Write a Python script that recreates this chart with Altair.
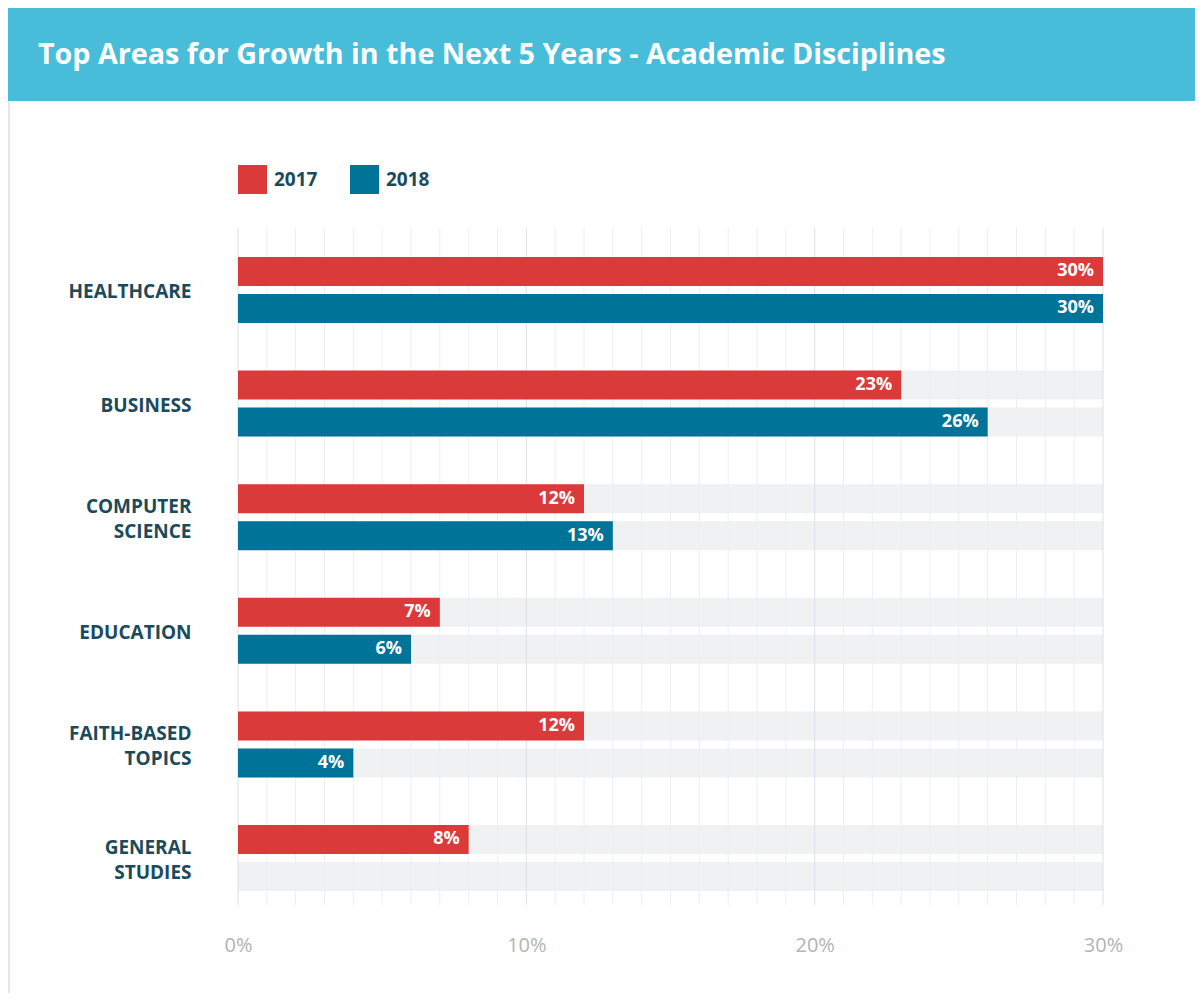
import altair as alt
import pandas as pd

# ---- data ----
categories = ["HEALTHCARE", "BUSINESS", "COMPUTER\nSCIENCE", "EDUCATION",
              "FAITH-BASED\nTOPICS", "GENERAL\nSTUDIES"]
years = ["2017", "2018"]
values_2017 = [30, 23, 12, 7, 12, 8]
values_2018 = [30, 26, 13, 6, 4, None]
axis_max = 30
grid_values = list(range(0, 31))
tick_labels = [0, 10, 20, 30]
title_text = "Top Areas for Growth in the Next 5 Years - Academic Disciplines"

RED = "#DB3A3A"
BLUE = "#007398"
LABEL = "#1A4A5C"
BANNER = "#48BDD9"

rows = []
for c, v in zip(categories, values_2017):
    if v is not None:
        rows.append({"cat": c, "year": "2017", "value": v, "label": f"{v}%"})
for c, v in zip(categories, values_2018):
    if v is not None:
        rows.append({"cat": c, "year": "2018", "value": v, "label": f"{v}%"})
df = pd.DataFrame(rows)

bg = pd.DataFrame([{"cat": c, "year": y, "value": axis_max} for c in categories for y in years])
grid = pd.DataFrame({"g": grid_values})

W, H = 865, 677
PL, PT, PR, PB = 230, 220, 92, 88

yscale = alt.Scale(domain=categories, paddingInner=0.419, paddingOuter=0.189, align=0.674)
yoff = alt.YOffset("year:N", scale=alt.Scale(domain=years, paddingInner=0.216))
xscale = alt.Scale(domain=[0, axis_max], nice=False)

yaxis = alt.Axis(title=None, domain=False, ticks=False, grid=False,
                 labelFont="Open Sans", labelFontWeight="bold", labelFontSize=19,
                 labelColor=LABEL, labelPadding=47, labelAlign="right", labelLimit=0,
                 labelLineHeight=25, labelExpr="split(datum.label, '\\n')",
                 labelOffset={"condition": {"test": "indexof(datum.value, '\\n') >= 0", "value": -10},
                              "value": 2})
xaxis = alt.Axis(title=None, domain=False, ticks=False, grid=False, values=tick_labels,
                 labelExpr="datum.value + '%'", labelFont="Open Sans", labelFontSize=20,
                 labelColor="#B3B3B3", labelPadding=30, labelFlush=False, labelOverlap=False)

bg_layer = alt.Chart(bg).mark_bar(color="#F0F1F3").encode(
    y=alt.Y("cat:N", scale=yscale, axis=yaxis, sort=categories),
    yOffset=yoff,
    x=alt.X("value:Q", scale=xscale, axis=xaxis),
)

rules = alt.Chart(grid).mark_rule(strokeWidth=1).encode(
    x=alt.X("g:Q", scale=xscale),
    color=alt.condition("datum.g % 10 === 0", alt.value("#DCE0E5"), alt.value("#ECEEF1")),
)

bars = alt.Chart(df).mark_bar().encode(
    y=alt.Y("cat:N", scale=yscale, sort=categories),
    yOffset=yoff,
    x=alt.X("value:Q", scale=xscale),
    color=alt.Color("year:N", scale=alt.Scale(domain=years, range=[RED, BLUE]),
                    legend=alt.Legend(title=None, orient="none", legendX=0, legendY=-63,
                                      direction="horizontal", symbolType="square",
                                      symbolSize=841, symbolStrokeWidth=0, symbolOpacity=1,
                                      labelFont="Open Sans", labelFontWeight="bold",
                                      labelFontSize=19, labelColor=LABEL, labelOffset=7,
                                      columnPadding=32, padding=0)),
)

texts = alt.Chart(df).mark_text(align="right", baseline="middle", dx=-9, color="white",
                                font="Open Sans", fontWeight="bold", fontSize=18).encode(
    y=alt.Y("cat:N", scale=yscale, sort=categories),
    yOffset=yoff,
    x=alt.X("value:Q", scale=xscale),
    text="label:N",
)

one = alt.Data(values=[{}])
banner = alt.Chart(one).mark_rect(color=BANNER).encode(
    x=alt.value(-PL), x2=alt.value(W + PR), y=alt.value(-PT), y2=alt.value(101 - 8 - PT))
border = alt.Chart(one).mark_rect(color="#E6E6E6").encode(
    x=alt.value(-PL), x2=alt.value(-PL + 2), y=alt.value(101 - 8 - PT), y2=alt.value(H + PB))
title = alt.Chart(one).mark_text(align="left", baseline="alphabetic", color="white",
                                 font="Open Sans", fontWeight="bold", fontSize=28.7).encode(
    x=alt.value(38 - 8 - PL), y=alt.value(64 - 8 - PT), text=alt.value(title_text))

chart = alt.layer(bg_layer, rules, bars, texts, banner, border, title).properties(
    width=W, height=H, autosize="none", background="white",
    padding={"left": PL, "top": PT, "right": PR, "bottom": PB},
).configure_view(stroke="transparent", strokeWidth=0)

chart.save("out.html", embed_options={"renderer": "svg", "actions": False})
